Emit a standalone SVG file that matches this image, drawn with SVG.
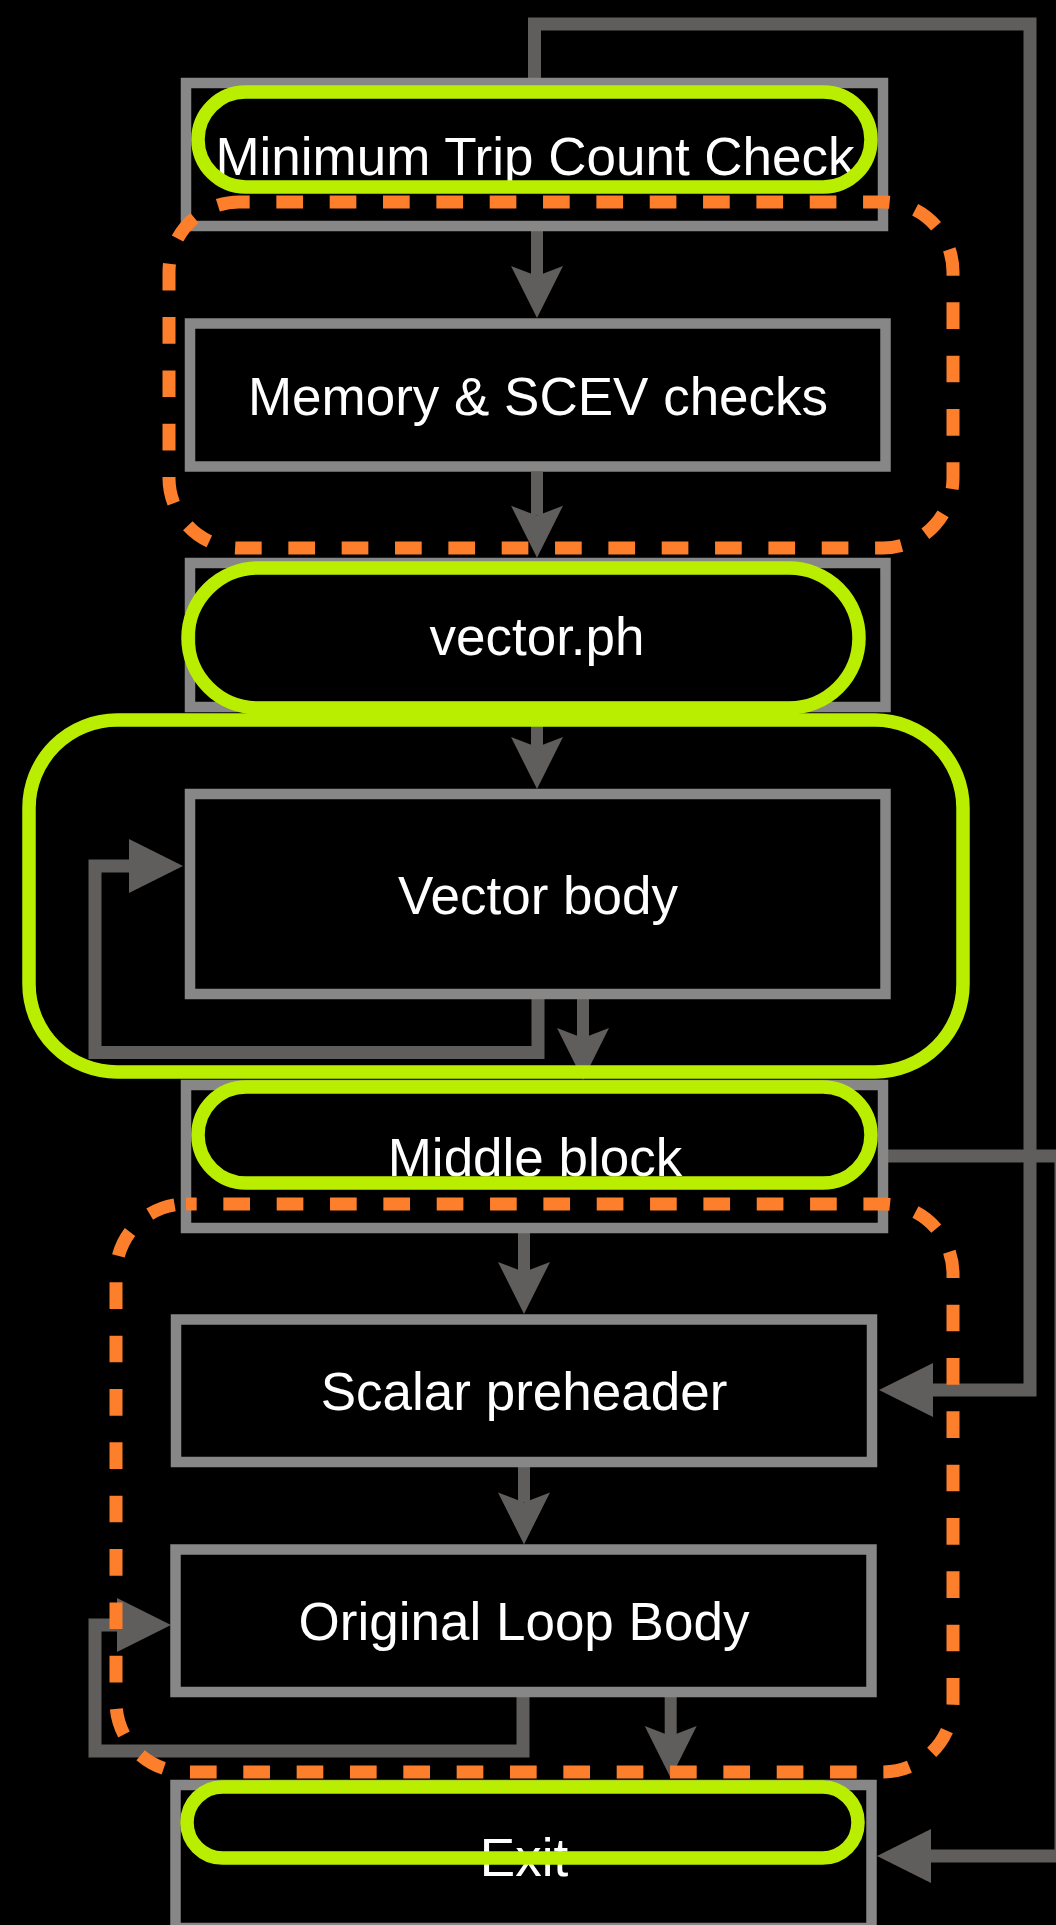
<svg xmlns="http://www.w3.org/2000/svg" width="1056" height="1925" viewBox="0 0 1056 1925">
  <style>
    .box { fill: #000; stroke: #878787; stroke-width: 10.5; }
    .lbl { font-family: "Liberation Sans", Arial, Helvetica, sans-serif; font-size: 53px; fill: #fff; text-anchor: middle; }
    .conn { fill: none; stroke: #5f5e5c; stroke-width: 12; }
    .loop { fill: none; stroke: #5f5e5c; stroke-width: 13; }
    .hl { fill: none; stroke: #b9ee00; stroke-width: 13.5; }
    .grp { fill: none; stroke: #fd7e2b; stroke-width: 13; stroke-dasharray: 26.67 26.67; stroke-dashoffset: 16; }
  </style>
  <defs>
    <marker id="notch" markerUnits="userSpaceOnUse" viewBox="0 -27 54 54" refX="10" refY="0" markerWidth="54" markerHeight="54" orient="auto" overflow="visible">
      <path d="M0,-26 L52,0 L0,26 L10,0 Z" fill="#5f5e5c"/>
    </marker>
    <marker id="tri" markerUnits="userSpaceOnUse" viewBox="0 -27 54 54" refX="1" refY="0" markerWidth="54" markerHeight="54" orient="auto" overflow="visible">
      <path d="M0,-27 L54,0 L0,27 Z" fill="#5f5e5c"/>
    </marker>
  </defs>
  <rect x="0" y="0" width="1056" height="1925" fill="#000"/>

  <g id="connectors">
    <path class="conn" d="M537,231 V276" marker-end="url(#notch)"/>
    <path class="conn" d="M537,472 V515.7" marker-end="url(#notch)"/>
    <path class="conn" d="M537,712 V747" marker-end="url(#notch)"/>
    <path class="conn" d="M583,999 V1038" marker-end="url(#notch)"/>
    <path class="loop" d="M538,999 V1052.5 H95 V866 H130" marker-end="url(#tri)"/>
    <path class="conn" d="M524,1233 V1272" marker-end="url(#notch)"/>
    <path class="conn" d="M524,1467 V1502.4" marker-end="url(#notch)"/>
    <path class="loop" d="M523,1697 V1751 H95 V1625 H118" marker-end="url(#tri)"/>
    <path class="conn" d="M670.7,1697 V1736" marker-end="url(#notch)"/>
    <path class="loop" d="M534.5,78 V24 H1030 V1390 H932" marker-end="url(#tri)"/>
    <path class="loop" d="M888,1156 H1061 V1856 H930" marker-end="url(#tri)"/>
  </g>

  <g id="node-min-trip">
    <rect class="box" x="186" y="83" width="697" height="143"/>
    <text class="lbl" x="535" y="175">Minimum Trip Count Check</text>
  </g>
  <g id="node-memory">
    <rect class="box" x="190" y="323.5" width="695.5" height="143"/>
    <text class="lbl" x="538" y="415">Memory &amp; SCEV checks</text>
  </g>
  <g id="node-vector-ph">
    <rect class="box" x="190" y="563" width="695.5" height="144"/>
    <text class="lbl" x="537" y="655">vector.ph</text>
  </g>
  <g id="node-vector-body">
    <rect class="box" x="190" y="794" width="695.5" height="200"/>
    <text class="lbl" x="538" y="914">Vector body</text>
  </g>
  <g id="node-middle">
    <rect class="box" x="186" y="1085" width="697" height="143"/>
    <text class="lbl" x="535" y="1176">Middle block</text>
  </g>
  <g id="node-scalar-ph">
    <rect class="box" x="176" y="1319.5" width="696" height="142.5"/>
    <text class="lbl" x="524" y="1410">Scalar preheader</text>
  </g>
  <g id="node-original">
    <rect class="box" x="175.5" y="1549.5" width="696" height="142.5"/>
    <text class="lbl" x="524" y="1640">Original Loop Body</text>
  </g>
  <g id="node-exit">
    <rect class="box" x="175.5" y="1785" width="696" height="143"/>
    <text class="lbl" x="524" y="1876">Exit</text>
  </g>

  <g id="highlights">
    <rect class="hl" x="198" y="92" width="673" height="95" rx="47.5"/>
    <rect class="hl" x="188" y="568" width="671" height="140" rx="70"/>
    <rect class="hl" x="29" y="720" width="934" height="352" rx="88"/>
    <rect class="hl" x="198" y="1087" width="673" height="96" rx="48"/>
    <rect class="hl" x="187" y="1787" width="671" height="71" rx="35.5"/>
  </g>

  <g id="groups">
    <rect class="grp" x="169" y="202" width="784" height="346" rx="70"/>
    <rect class="grp" x="116" y="1204" width="837" height="568" rx="70"/>
  </g>
</svg>
